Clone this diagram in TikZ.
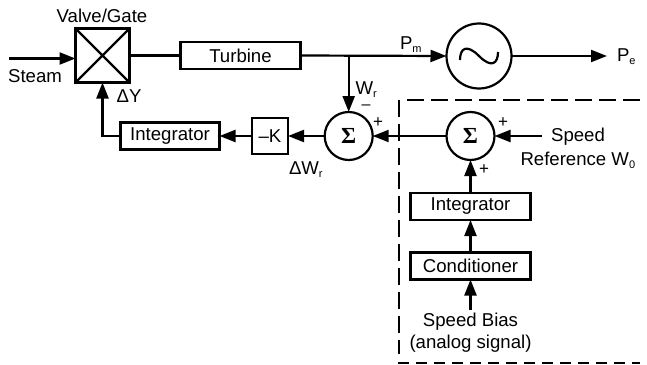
\documentclass[tikz,border=0pt]{standalone}
\usepackage{fontspec}
\setmainfont{Liberation Sans}
\newfontfamily\sigmafont{Liberation Serif}
\usetikzlibrary{arrows.meta}
\newcommand{\subt}[1]{\raisebox{-3pt}{\fontsize{11}{11}\selectfont #1}}
\tikzset{
  every node/.style={font=\fontsize{18.6}{20}\selectfont, inner sep=0pt, outer sep=0pt},
  wire/.style={line width=2.2pt},
  flow/.style={wire, -{Triangle[length=16pt,width=12pt]}},
  blockbox/.style={draw, line width=2.2pt, minimum height=27pt, anchor=center},
  sumnode/.style={draw, circle, line width=2.2pt, minimum size=48pt, font=\fontsize{23}{23}\selectfont\sigmafont\bfseries},
  dashline/.style={line width=2.2pt, dash pattern=on 16.5pt off 7.5pt},
  sign/.style={font=\fontsize{17}{17}\selectfont}
}
\begin{document}
\begin{tikzpicture}[x=1pt,y=-1pt]
\useasboundingbox (0,0) rectangle (647,364);
% blocks
\node[draw, line width=2.2pt, minimum width=54pt, minimum height=54pt] (valve) at (102.5,55.5) {};
\draw[line width=2.2pt] (valve.north west) -- (valve.south east) (valve.north east) -- (valve.south west);
\node[blockbox, minimum width=120pt] (turbine) at (240.5,55.5) {Turbine};
\node[draw, circle, line width=2.2pt, minimum size=65pt] (gen) at (479,56) {};
\node[blockbox, minimum width=99pt] (int1) at (170,136) {Integrator};
\node[blockbox, minimum width=36pt, minimum height=36pt] (gain) at (270,136) {–K};
\node[sumnode] (sum1) at (348.7,136) {Σ};
\node[sumnode] (sum2) at (470.5,136) {Σ};
\node[blockbox, minimum width=120pt] (int2) at (470.5,206.5) {Integrator};
\node[blockbox, minimum width=120pt] (cond) at (470.5,266) {Conditioner};
% sine
\draw[line width=2.2pt] (gen.center) ++(-19,4) .. controls ++(0,-11) and ++(-13,-13) .. (gen.center) .. controls ++(13,13) and ++(0,11) .. ++(19,-4);
% free ends
\coordinate (steamin) at (9,58.5);
\coordinate (valvein) at (valve.west |- steamin);
\coordinate (pmtap) at (348.7,55.5);
\coordinate (peout) at (607,56);
\coordinate (speedin) at (541.5,136);
\coordinate (biasin) at (470.5,310);
\coordinate (corner) at (102.5,136);
% connectors
\draw[flow] (steamin) -- (valvein);
\draw[wire] (valve.east |- turbine.west) -- (turbine.west);
\draw[flow] (turbine.east) -- (gen.west);
\draw[flow] (gen.east) -- (peout);
\draw[flow] (pmtap) -- (sum1.north);
\draw[flow] (sum2.west) -- (sum1.east);
\draw[flow] (speedin) -- (sum2.east);
\draw[flow] (int2.north) -- (sum2.south);
\draw[flow] (cond.north) -- (int2.south);
\draw[flow] (biasin) -- (cond.south);
\draw[flow] (sum1.west) -- (gain.east);
\draw[flow] (gain.west) -- (int1.east);
\draw[flow] (int1.west) -- (corner) -- (valve.south);
% dashed box
\coordinate (dtop) at (399,100);
\coordinate (dbot) at (399,354);
\coordinate (dtopr) at (640,100);
\coordinate (dbl) at (398,362.8);
\coordinate (dbr) at (640,362.8);
\draw[dashline] (dtop) -- (dbot);
\draw[dashline] (dtop) ++(8,0) -- (dtopr);
\draw[line width=2.2pt, dash pattern=on 11pt off 7pt] (dbl) -- (dbr);
% labels
\node (lvalve) at (102,16) {Valve/Gate};
\node (lsteam) at (35,76) {Steam};
\node (ldy) at (129,96.5) {ΔY};
\node[anchor=base west] (lpm) at (400,49) {P\subt{m}};
\node[anchor=base west] (lpe) at (617,61.5) {P\subt{e}};
\node[anchor=base west] (lwr) at (355.5,94) {W\subt{r}};
\node[font=\fontsize{16}{16}\selectfont] (lminus) at (366,107.5) {–};
\node[anchor=base west] (ldw) at (289,174) {ΔW\subt{r}};
\node[sign] (p1) at (378,122.5) {+};
\node[sign] (p2) at (503,122.5) {+};
\node[sign] (p3) at (484,169.5) {+};
\node (lspeed) at (578,137) {Speed};
\node[anchor=base west] (lref) at (520.5,165) {Reference W\subt{0}};
\node (lbias) at (470.5,321.5) {Speed Bias};
\node (lana) at (470.5,344) {(analog signal)};
\end{tikzpicture}
\end{document}
